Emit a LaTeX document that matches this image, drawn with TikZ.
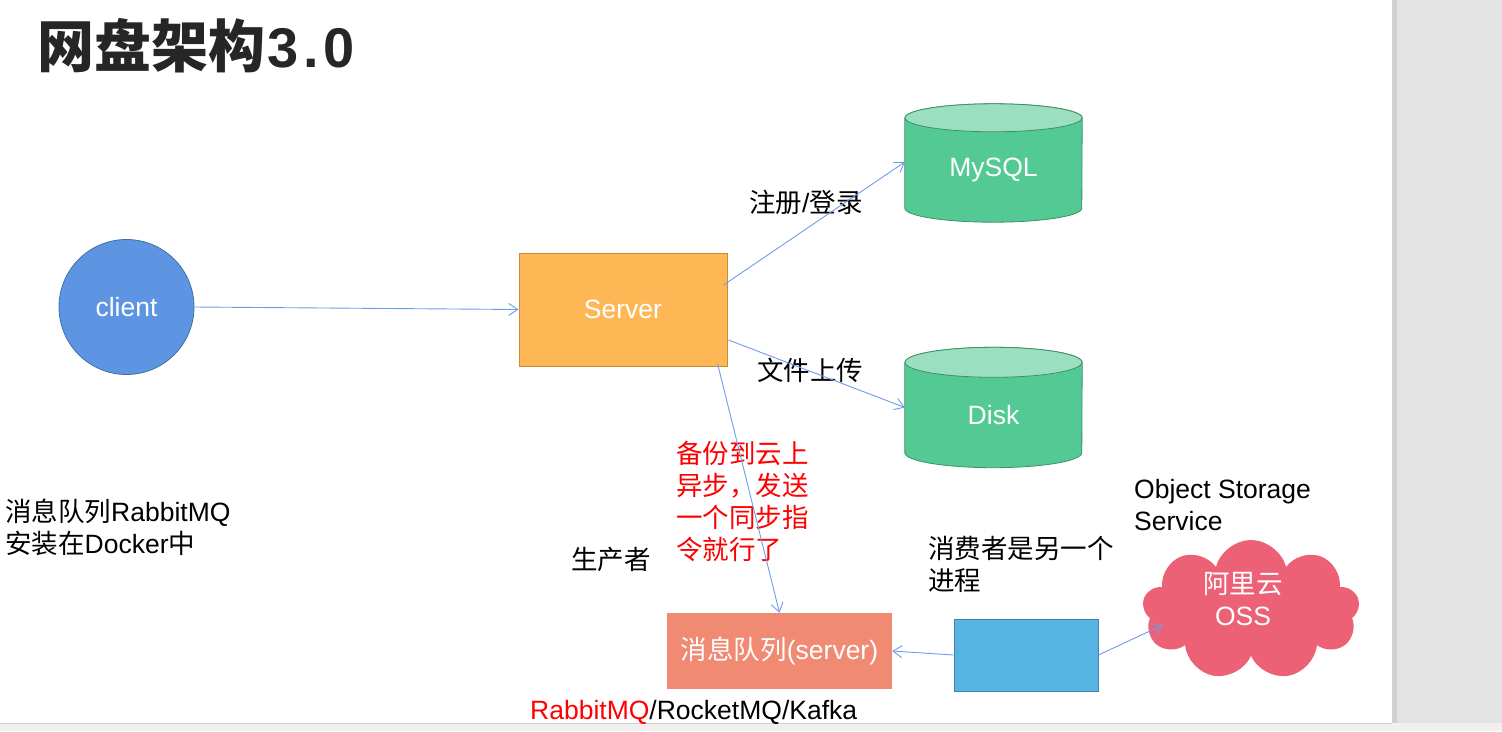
\documentclass[tikz,border=0pt]{standalone}
\usepackage{fontspec}
\setmainfont{Liberation Sans}
\newfontfamily\cjk{Noto Sans CJK SC}
\newcommand\zh[1]{{\cjk #1}}
\usetikzlibrary{arrows.meta,shapes.symbols,calc}
\definecolor{linkblue}{RGB}{110,156,232}
\definecolor{clientfill}{RGB}{93,149,226}
\definecolor{clientdraw}{RGB}{65,113,160}
\definecolor{serverfill}{RGB}{253,184,85}
\definecolor{serverdraw}{RGB}{200,140,60}
\definecolor{mqfill}{RGB}{241,138,114}
\definecolor{consfill}{RGB}{86,179,226}
\definecolor{consdraw}{RGB}{62,132,172}
\definecolor{cloudfill}{RGB}{237,97,119}
\definecolor{dbbody}{RGB}{83,201,148}
\definecolor{dbtop}{RGB}{155,223,192}
\definecolor{dbdraw}{RGB}{60,145,104}
\definecolor{titlegray}{RGB}{38,38,38}
\definecolor{panelgray}{RGB}{227,227,227}
\definecolor{edgegray}{RGB}{208,208,208}
\definecolor{redtext}{RGB}{255,0,0}
\tikzset{
  conn/.style={draw=linkblue, line width=0.9pt, -{Straight Barb[length=9pt,width=12pt]}},
  lbl/.style={inner sep=0pt, anchor=west, align=left, font=\fontsize{26.5pt}{32pt}\selectfont},
  wtxt/.style={text=white, font=\fontsize{26.5pt}{32pt}\selectfont, align=center},
  dbbox/.style={inner sep=0pt, minimum width=177pt, minimum height=90pt, wtxt}
}
\begin{document}
\begin{tikzpicture}[x=1pt,y=-1pt]
\useasboundingbox (0,0) rectangle (1502,731);
% window chrome
\fill[panelgray] (1392,0) rectangle (1502,731);
\fill[edgegray] (1392,0) rectangle (1397,723);
\fill[black!6] (0,723) rectangle (1502,731);
\draw[edgegray, line width=1pt] (0,723) -- (1392,723);

% title
\node[anchor=west, inner sep=0pt, text=titlegray, font=\cjk\bfseries\fontsize{57pt}{62pt}\selectfont] (title) at (37,46) {网盘架构{\fontspec{Liberation Sans}\bfseries\fontsize{56pt}{62pt}\selectfont\kern2pt 3\kern5pt.\kern5pt0}};

% client
\node[circle, fill=clientfill, draw=clientdraw, line width=0.8pt, minimum size=135pt, inner sep=0pt, wtxt] (client) at (126.5,307) {client};

% server
\node[rectangle, fill=serverfill, draw=serverdraw, line width=1pt, minimum width=208pt, minimum height=113pt, inner sep=0pt, wtxt] (server) at (623,309.5) {Server};

% MySQL cylinder
\node[dbbox] (mysql) at (993.5,163) {};
\filldraw[fill=dbbody, draw=dbdraw, line width=0.8pt]
  (mysql.north west) -- (mysql.south west) arc[start angle=180, end angle=360, x radius=88.5pt, y radius=14pt]
  -- (mysql.north east) arc[start angle=0, end angle=180, x radius=88.5pt, y radius=14pt] -- cycle;
\filldraw[fill=dbtop, draw=dbdraw, line width=0.8pt] ($(mysql.north)$) ellipse[x radius=88.5pt, y radius=14pt];
\node[wtxt, inner sep=0pt] (mysqltxt) at (993.5,170) {MySQL};

% Disk cylinder
\node[dbbox] (disk) at (993.5,407.5) {};
\filldraw[fill=dbbody, draw=dbdraw, line width=0.8pt]
  (disk.north west) -- (disk.south west) arc[start angle=180, end angle=360, x radius=88.5pt, y radius=15pt]
  -- (disk.north east) arc[start angle=0, end angle=180, x radius=88.5pt, y radius=15pt] -- cycle;
\filldraw[fill=dbtop, draw=dbdraw, line width=0.8pt] ($(disk.north)$) ellipse[x radius=88.5pt, y radius=15pt];
\node[wtxt, inner sep=0pt] (disktxt) at (993.5,415) {Disk};

% message queue
\node[rectangle, fill=mqfill, minimum width=225pt, minimum height=76pt, inner sep=0pt, wtxt] (mq) at (779.5,651) {\zh{消息队列}(server)};

% consumer box
\node[rectangle, fill=consfill, draw=consdraw, line width=1pt, minimum width=144pt, minimum height=72pt, inner sep=0pt] (cons) at (1026,655) {};

% cloud
\node[cloud, cloud puffs=9, aspect=1.55, fill=cloudfill, minimum width=217pt, minimum height=140pt, inner sep=0pt] (oss) at (1251,610) {};
\node[wtxt, inner sep=0pt] (osstxt) at (1243,599) {\zh{阿里云}\\OSS};

% labels
\node[lbl] (reg) at (749,202) {\zh{注册}/\zh{登录}};
\node[lbl] (upl) at (757,370) {\zh{文件上传}};
\node[lbl, text=redtext] (backup) at (676,501) {\zh{备份到云上}\\\zh{异步，发送}\\\zh{一个同步指}\\\zh{令就行了}};
\node[lbl] (prod) at (571,560) {\zh{生产者}};
\node[lbl] (note) at (5,527) {\zh{消息队列}RabbitMQ\\\zh{安装在}Docker\zh{中}};
\node[lbl] (oss-name) at (1134,505) {Object Storage\\Service};
\node[lbl] (consnote) at (928,564) {\zh{消费者是另一个}\\\zh{进程}};
\node[lbl] (mqs) at (530,712) {\textcolor{redtext}{RabbitMQ}/RocketMQ/Kafka};

% connectors
\draw[conn] (client.east) -- (server.west);
\draw[conn] ([shift={(-4,-24.5)}]server.east) -- ([yshift=1pt]mysql.west);
\draw[conn] ([shift={(1,30.5)}]server.east) -- (disk.west);
\draw[conn] ([shift={(-10,-3)}]server.south east) -- (mq.north);
\draw[conn] (cons.west) -- (mq.east);
\draw[conn] (cons.east) -- ([shift={(19,15)}]oss.west);
\end{tikzpicture}
\end{document}
